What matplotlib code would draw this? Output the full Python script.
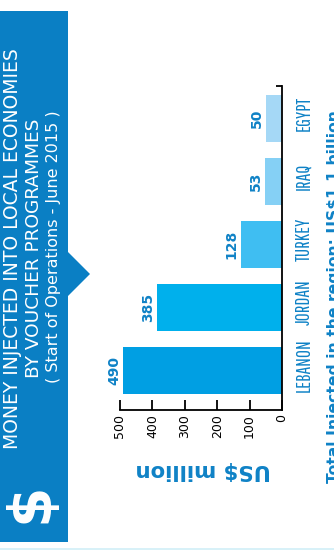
"""
Voucher programme money by country, laid out sideways next to a title panel.
"""

import matplotlib.pyplot as plt
from matplotlib.patches import Polygon, Rectangle
from matplotlib.transforms import ScaledTranslation

countries = ["LEBANON", "JORDAN", "TURKEY", "IRAQ", "EGYPT"]
injected = [490, 385, 128, 53, 50]
bar_colors = ["#009fe3", "#00b0ec", "#3fbef2", "#85d0f5", "#a5d8f6"]
ticks = [0, 100, 200, 300, 400, 500]

W, H = 334, 550
BLUE = "#0a7fc4"
LABEL_BLUE = "#0f82c6"

plt.rcParams["font.family"] = ["DejaVu Sans"]

fig = plt.figure(figsize=(W / 100, H / 100), dpi=100)

# full figure layer in pixel coordinates, y pointing down
bg = fig.add_axes([0, 0, 1, 1])
bg.set_xlim(0, W)
bg.set_ylim(H, 0)
bg.axis("off")

bg.add_patch(Rectangle((0, 11), 68, 531, color=BLUE, lw=0))
bg.add_patch(Polygon([(68, 252), (90, 274), (68, 296)], color=BLUE, lw=0))
bg.add_patch(Rectangle((0, 548), W, 2, color="#d8f1f8", lw=0))

# sideways text is anchored at the start of its baseline
side = dict(rotation=90, ha="left", va="baseline", rotation_mode="anchor")

bg.text(31, 503, "$", color="white", fontsize=42, fontweight="bold",
        rotation=90, ha="center", va="center")
bg.text(18, 449, "MONEY INJECTED INTO LOCAL ECONOMIES", color="white", fontsize=13.5, **side)
bg.text(39, 378, "BY VOUCHER PROGRAMMES", color="white", fontsize=13.3, **side)
bg.text(58, 383, "( Start of Operations - June 2015 )", color="white", fontsize=11.5, **side)

bg.text(339, 483, "Total Injected in the region: US$1.1 billion", color=LABEL_BLUE,
        fontsize=11.25, fontweight="bold", clip_on=True, **side)
bg.text(203, 470, "US$ million", color=LABEL_BLUE, fontsize=15.3, fontweight="bold",
        rotation=180, ha="center", va="center")

# bars run leftwards from the zero line at x=282
ax = fig.add_axes([120 / W, 1 - 410 / H, 162 / W, 324 / H])
ax.patch.set_alpha(0)
ax.set_xlim(500, 0)
ax.set_ylim(-0.63, 4.52)
positions = list(range(len(countries)))
ax.barh(positions, injected, height=0.746, color=bar_colors)

for p, v in zip(positions, injected):
    ax.text(v + 6, p, str(v), color=LABEL_BLUE, fontsize=10, fontweight="bold",
            rotation=90, ha="right", va="center")

ax.spines["top"].set_visible(False)
ax.spines["left"].set_visible(False)
ax.spines["right"].set_linewidth(1.3)
ax.spines["bottom"].set_linewidth(1.3)
ax.yaxis.tick_right()
ax.set_yticks(positions)
ax.set_yticklabels(countries, rotation=90, va="center", color=LABEL_BLUE, fontsize=14,
                   family=["Pathway Gothic One", "Liberation Sans", "DejaVu Sans"])
ax.tick_params(axis="y", length=0, pad=9)

# country names sit a little above the bar centres
nudge = ScaledTranslation(0, 5 / 100, fig.dpi_scale_trans)
for lab in ax.get_yticklabels():
    lab.set_transform(lab.get_transform() + nudge)

# small hook at the top end of the zero line
ax.set_yticks([ax.get_ylim()[1]], minor=True)
ax.tick_params(axis="y", which="minor", length=4, width=1.3, direction="in")

ax.set_xticks(ticks)
ax.set_xticklabels([str(t) for t in ticks], rotation=90, fontsize=9)
ax.tick_params(axis="x", length=7, width=1.3, pad=3, direction="in")

fig.savefig("out.png", dpi=100)
